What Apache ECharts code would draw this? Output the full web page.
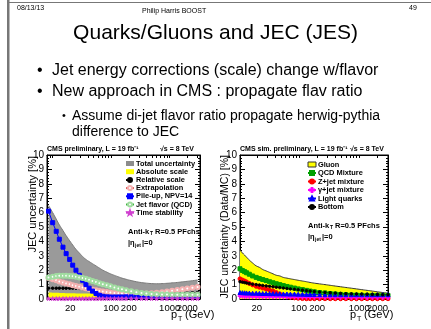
<!DOCTYPE html>
<html><head><meta charset="utf-8">
<script src="https://cdn.jsdelivr.net/npm/echarts@6/dist/echarts.min.js"></script>
<style>html,body{margin:0;padding:0;background:#fff}#c{width:431px;height:329px}</style>
</head><body><div id="c"></div>
<script>
// ---- data ----
var pT = [8.5, 10, 11.5, 13, 15, 17, 19.5, 22, 25, 28.5, 32.5, 37, 42, 48, 55, 63, 72, 84, 97, 114, 133, 153, 180, 220, 270, 330, 400, 490, 600, 740, 900, 1100, 1350, 1650, 2000, 2450, 3000];
var pTRight = [10.5, 11.5, 12.5, 13.5, 15, 17, 19.5, 22, 25, 28.5, 32.5, 37, 42, 48, 55, 63, 72, 84, 97, 114, 133, 153, 180, 220, 270, 330, 400, 490, 600, 740, 900, 1100, 1350, 1650, 2000, 2450, 3000];
// left plot: JEC uncertainty [%]
var leftTotal    = [6.5, 6.0, 5.55, 5.15, 4.75, 4.4, 4.05, 3.75, 3.45, 3.2, 2.95, 2.75, 2.6, 2.45, 2.3, 2.15, 2.0, 1.87, 1.75, 1.64, 1.54, 1.45, 1.37, 1.28, 1.2, 1.14, 1.1, 1.07, 1.06, 1.07, 1.09, 1.12, 1.15, 1.19, 1.23, 1.27, 1.32];
var leftAbsolute = [0.45, 0.44, 0.43, 0.42, 0.41, 0.4, 0.4, 0.4, 0.39, 0.39, 0.39, 0.38, 0.38, 0.38, 0.38, 0.38, 0.38, 0.38, 0.38, 0.38, 0.38, 0.38, 0.38, 0.38, 0.38, 0.38, 0.38, 0.38, 0.38, 0.38, 0.38, 0.38, 0.38, 0.38, 0.38, 0.38, 0.38];
var leftRelative = [0.75, 0.75, 0.75, 0.75, 0.75, 0.75, 0.75, 0.75, 0.75, 0.74, 0.73, 0.72, 0.7, 0.67, 0.64, 0.6, 0.56, 0.52, 0.49, 0.46, 0.44, 0.43, 0.42, 0.41, 0.4, 0.4, 0.4, 0.4, 0.4, 0.4, 0.41, 0.41, 0.42, 0.42, 0.43, 0.44, 0.45];
var leftExtrap   = [1.45, 1.38, 1.3, 1.22, 1.15, 1.08, 1.02, 0.96, 0.9, 0.85, 0.8, 0.75, 0.7, 0.65, 0.6, 0.56, 0.52, 0.48, 0.45, 0.42, 0.4, 0.38, 0.36, 0.35, 0.35, 0.36, 0.38, 0.4, 0.43, 0.47, 0.52, 0.57, 0.62, 0.68, 0.73, 0.78, 0.83];
var leftPileup   = [6.1, 5.3, 4.7, 4.15, 3.6, 3.15, 2.75, 2.35, 2.0, 1.65, 1.3, 1.0, 0.75, 0.55, 0.38, 0.26, 0.19, 0.15, 0.14, 0.14, 0.14, 0.14, 0.15, 0.15, 0.15, 0.15, 0.16, 0.16, 0.16, 0.17, 0.17, 0.18, 0.18, 0.19, 0.19, 0.2, 0.2];
var leftFlavor   = [1.5, 1.55, 1.6, 1.62, 1.62, 1.62, 1.6, 1.58, 1.55, 1.5, 1.45, 1.4, 1.33, 1.25, 1.18, 1.1, 1.02, 0.95, 0.88, 0.8, 0.73, 0.67, 0.6, 0.53, 0.47, 0.42, 0.38, 0.35, 0.33, 0.32, 0.31, 0.3, 0.3, 0.3, 0.3, 0.3, 0.3];
var leftTime     = [0.03, 0.03, 0.03, 0.03, 0.03, 0.03, 0.03, 0.03, 0.03, 0.03, 0.03, 0.03, 0.03, 0.03, 0.03, 0.03, 0.03, 0.03, 0.03, 0.03, 0.03, 0.03, 0.03, 0.03, 0.03, 0.03, 0.03, 0.03, 0.03, 0.03, 0.03, 0.03, 0.03, 0.03, 0.03, 0.03, 0.03];
// right plot: JEC uncertainty (Data/MC) [%]
var rightGluon   = [3.4, 3.2, 3.05, 2.9, 2.7, 2.5, 2.3, 2.2, 2.05, 1.95, 1.85, 1.75, 1.65, 1.6, 1.5, 1.45, 1.4, 1.35, 1.3, 1.25, 1.2, 1.15, 1.1, 1.05, 1.0, 0.95, 0.9, 0.85, 0.8, 0.75, 0.7, 0.65, 0.6, 0.55, 0.5, 0.45, 0.4];
var rightQCD     = [2.1, 1.98, 1.9, 1.82, 1.72, 1.6, 1.5, 1.42, 1.35, 1.28, 1.2, 1.13, 1.06, 1.0, 0.93, 0.87, 0.82, 0.76, 0.7, 0.65, 0.6, 0.55, 0.5, 0.45, 0.42, 0.38, 0.35, 0.32, 0.3, 0.28, 0.27, 0.26, 0.25, 0.25, 0.25, 0.25, 0.25];
var rightZjet    = [1.4, 1.32, 1.25, 1.18, 1.08, 0.98, 0.88, 0.82, 0.76, 0.7, 0.62, 0.55, 0.45, 0.35, 0.25, 0.18, 0.12, 0.08, 0.05, 0.03, 0.02, 0.02, 0.02, 0.02, 0.02, 0.02, 0.02, 0.02, 0.02, 0.02, 0.02, 0.02, 0.02, 0.02, 0.02, 0.02, 0.02];
var rightGjet    = [0.2, 0.19, 0.18, 0.17, 0.16, 0.16, 0.15, 0.15, 0.15, 0.15, 0.15, 0.15, 0.15, 0.14, 0.14, 0.14, 0.14, 0.14, 0.13, 0.13, 0.13, 0.13, 0.12, 0.12, 0.12, 0.12, 0.11, 0.11, 0.11, 0.1, 0.1, 0.1, 0.1, 0.1, 0.1, 0.1, 0.1];
var rightLight   = [0.45, 0.44, 0.43, 0.42, 0.41, 0.4, 0.4, 0.39, 0.38, 0.38, 0.37, 0.37, 0.36, 0.36, 0.35, 0.35, 0.34, 0.34, 0.33, 0.33, 0.32, 0.32, 0.31, 0.31, 0.3, 0.3, 0.3, 0.3, 0.3, 0.3, 0.3, 0.3, 0.3, 0.3, 0.3, 0.3, 0.3];
var rightBottom  = [1.2, 1.17, 1.14, 1.11, 1.07, 1.03, 1.0, 0.97, 0.94, 0.91, 0.88, 0.85, 0.82, 0.79, 0.76, 0.73, 0.7, 0.67, 0.64, 0.61, 0.58, 0.55, 0.52, 0.49, 0.46, 0.43, 0.41, 0.39, 0.37, 0.36, 0.35, 0.34, 0.33, 0.32, 0.31, 0.3, 0.3];
// axis ticks
var xLabelValues = [20, 100, 200, 1000];
var xLabelValuesExtra = [2000];
var xTickValues  = [8, 9, 10, 20, 30, 40, 50, 60, 70, 80, 90, 100, 200, 300, 400, 500, 600, 700, 800, 900, 1000, 2000, 3000];

var FONT = 'Liberation Sans, Arial, sans-serif';
function pts(xs, a){ return xs.map(function(x,i){ return [x, a[i]]; }); }

var chart = echarts.init(document.getElementById('c'), null, {renderer:'canvas'});

function labelCfg(vals){
  return {show:true, customValues:vals, hideOverlap:false, showMinLabel:true, showMaxLabel:true,
          color:'#000', fontSize:9.5, fontFamily:FONT, margin:4,
          formatter:function(v){ return String(Math.round(v)); }};
}
function xAxes(grid, mn, mx){
  return [{
    type:'log', gridIndex:grid, min:mn, max:mx, logBase:10, position:'bottom',
    axisLine:{show:true, lineStyle:{color:'#000', width:1}},
    axisTick:{show:true, inside:true, length:3, customValues:xTickValues, lineStyle:{color:'#000'}},
    axisLabel:labelCfg(xLabelValues),
    splitLine:{show:false}, minorTick:{show:false}
  },{
    type:'log', gridIndex:grid, min:mn, max:mx, logBase:10, position:'bottom',
    axisLine:{show:false}, axisTick:{show:false},
    axisLabel:labelCfg(xLabelValuesExtra),
    splitLine:{show:false}, minorTick:{show:false}
  },{
    type:'log', gridIndex:grid, min:mn, max:mx, logBase:10, position:'top',
    axisLine:{show:true, lineStyle:{color:'#000', width:1}},
    axisTick:{show:true, inside:true, length:3, customValues:xTickValues, lineStyle:{color:'#000'}},
    axisLabel:{show:false}, splitLine:{show:false}
  }];
}
function yAxes(grid){
  return [{
    type:'value', gridIndex:grid, min:0, max:10, interval:1, position:'left',
    axisLine:{show:true, lineStyle:{color:'#000'}},
    axisTick:{show:true, inside:true, length:5, lineStyle:{color:'#000'}},
    minorTick:{show:true, splitNumber:5, length:2, lineStyle:{color:'#000'}},
    axisLabel:{color:'#000', fontSize:10, fontFamily:FONT, margin:3},
    splitLine:{show:false}
  },{
    type:'value', gridIndex:grid, min:0, max:10, interval:1, position:'right',
    axisLine:{show:true, lineStyle:{color:'#000'}},
    axisTick:{show:true, inside:true, length:5, lineStyle:{color:'#000'}},
    minorTick:{show:true, splitNumber:5, length:2, lineStyle:{color:'#000'}},
    axisLabel:{show:false}, splitLine:{show:false}
  }];
}

function lineSeries(name, xs, data, xi, yi, color, symbol, size, opts){
  var s = {
    name:name, type:'line', xAxisIndex:xi, yAxisIndex:yi, data:pts(xs, data),
    symbol:symbol, symbolSize:size, showSymbol:true, smooth:false,
    lineStyle:{color:color, width:1},
    itemStyle:{color:color, borderColor:color, borderWidth:1},
    z:5, animation:false
  };
  if (opts) for (var k in opts) s[k] = opts[k];
  return s;
}

var plus = 'path://M4,0h2v4h4v2h-4v4h-2v-4h-4v-2h4z';
var star = 'path://M5,0L6.2,3.6L10,3.6L7,5.9L8.1,9.5L5,7.3L1.9,9.5L3,5.9L0,3.6L3.8,3.6Z';

var legendText = {fontSize:7.4, fontWeight:'bold', fontFamily:FONT, color:'#000', lineHeight:7, padding:[0,0,0,-3]};

var option = {
  animation:false,
  backgroundColor:'#fff',
  grid:[
    {left:47, top:155, width:153, height:144, show:true, borderColor:'#000', borderWidth:1, backgroundColor:'transparent'},
    {left:240, top:155, width:148, height:144, show:true, borderColor:'#000', borderWidth:1, backgroundColor:'transparent'}
  ],
  xAxis: xAxes(0, 8, 3300).concat(xAxes(1, 10.5, 3000)),
  yAxis: yAxes(0).concat(yAxes(1)),
  legend:[
    {orient:'vertical', left:125, top:160, itemWidth:8, itemHeight:5, itemGap:1.2, padding:0, textStyle:legendText,
     data:[
      {name:'Total uncertainty', icon:'rect', itemStyle:{color:'#8c8c8c'}},
      {name:'Absolute scale', icon:'rect', itemStyle:{color:'#ffff00'}},
      {name:'Relative scale'}, {name:'Extrapolation'}, {name:'Pile-up, NPV=14'},
      {name:'Jet flavor (QCD)'}, {name:'Time stability'}
     ]},
    {orient:'vertical', left:307, top:161, itemWidth:8, itemHeight:5, itemGap:1.5, padding:0, textStyle:legendText,
     data:[
      {name:'Gluon', icon:'rect', itemStyle:{color:'#ffff00', borderColor:'#333', borderWidth:1}},
      {name:'QCD Mixture'}, {name:'Z+jet mixture'}, {name:'γ+jet mixture'},
      {name:'Light quarks'}, {name:'Bottom'}
     ]}
  ],
  series:[
    // left plot
    {name:'Total uncertainty', type:'line', xAxisIndex:0, yAxisIndex:0, data:pts(pT, leftTotal), symbol:'none', smooth:true,
     lineStyle:{color:'#7a7a7a', width:1}, areaStyle:{color:'#9a9a9a', opacity:1}, itemStyle:{color:'#8c8c8c'}, z:1},
    {name:'Absolute scale', type:'line', xAxisIndex:0, yAxisIndex:0, data:pts(pT, leftAbsolute), symbol:'none', smooth:true,
     lineStyle:{width:0}, areaStyle:{color:'#ffff00', opacity:1}, itemStyle:{color:'#ffff00'}, z:2},
    lineSeries('Relative scale', pT, leftRelative, 0, 0, '#000', 'circle', 2.5, {lineStyle:{color:'#000', width:1, type:'dotted'}}),
    lineSeries('Extrapolation', pT, leftExtrap, 0, 0, '#e06060', 'emptyCircle', 4, {itemStyle:{color:'#f4b0b0', borderColor:'#e06060', borderWidth:1}}),
    lineSeries('Pile-up, NPV=14', pT, leftPileup, 0, 0, '#0000ff', 'rect', 4),
    lineSeries('Jet flavor (QCD)', pT, leftFlavor, 0, 0, '#40b040', 'emptyCircle', 4, {itemStyle:{color:'#a0dca0', borderColor:'#40b040', borderWidth:1}}),
    lineSeries('Time stability', pT, leftTime, 0, 0, '#d040d0', star, 4),
    // right plot
    {name:'Gluon', type:'line', xAxisIndex:3, yAxisIndex:2, data:pts(pTRight, rightGluon), symbol:'none', smooth:true,
     lineStyle:{color:'#333', width:1}, areaStyle:{color:'#ffff00', opacity:1}, itemStyle:{color:'#ffff00', borderColor:'#333'}, z:1},
    lineSeries('QCD Mixture', pTRight, rightQCD, 3, 2, '#00a000', 'rect', 4),
    lineSeries('Z+jet mixture', pTRight, rightZjet, 3, 2, '#ff0000', 'circle', 4),
    lineSeries('γ+jet mixture', pTRight, rightGjet, 3, 2, '#ff00ff', plus, 4),
    lineSeries('Light quarks', pTRight, rightLight, 3, 2, '#0000ff', 'triangle', 4),
    lineSeries('Bottom', pTRight, rightBottom, 3, 2, '#000', 'circle', 2.5)
  ],
  graphic:[
    // slide frame
    {type:'rect', shape:{x:7, y:0, width:2.5, height:329}, style:{fill:'#777'}},
    {type:'rect', shape:{x:7, y:2, width:424, height:1}, style:{fill:'#777'}},
    {type:'text', left:17, top:5, style:{text:'08/13/13', font:'7px '+FONT, fill:'#000'}},
    {type:'text', left:142, top:8, style:{text:'Philip Harris BOOST', font:'7px '+FONT, fill:'#000'}},
    {type:'text', left:409, top:5, style:{text:'49', font:'7px '+FONT, fill:'#000'}},
    {type:'text', left:'center', top:23, style:{text:'Quarks/Gluons and JEC (JES)', font:'21px '+FONT, fill:'#000'}},
    {type:'text', left:37, top:63, style:{text:'•', font:'16px '+FONT, fill:'#000'}},
    {type:'text', left:52, top:63, style:{text:'Jet energy corrections (scale) change w/flavor', font:'16px '+FONT, fill:'#000'}},
    {type:'text', left:37, top:84, style:{text:'•', font:'16px '+FONT, fill:'#000'}},
    {type:'text', left:52, top:84, style:{text:'New approach in CMS : propagate flav ratio', font:'16px '+FONT, fill:'#000'}},
    {type:'text', left:62, top:110, style:{text:'•', font:'11px '+FONT, fill:'#000'}},
    {type:'text', left:72, top:108, style:{text:'Assume di-jet flavor ratio propagate herwig-pythia\ndifference to JEC', font:'14px '+FONT, lineHeight:16, fill:'#000'}},
    // left plot header & labels
    {type:'text', left:47, top:146, style:{text:'CMS preliminary, L = 19 fb⁻¹', font:'bold 7px '+FONT, fill:'#000'}},
    {type:'text', left:160, top:146, style:{text:'√s = 8 TeV', font:'bold 7px '+FONT, fill:'#000'}},
    {type:'text', x:33, y:156, rotation:Math.PI/2, style:{text:'JEC uncertainty [%]', font:'11px '+FONT, fill:'#000', align:'right', verticalAlign:'middle'}},
    {type:'text', left:128, top:228, style:{text:'Anti-k', font:'bold 7.5px '+FONT, fill:'#000'}},
    {type:'text', left:150, top:231, style:{text:'T', font:'bold 5px '+FONT, fill:'#000'}},
    {type:'text', left:155, top:228, style:{text:'R=0.5 PFchs', font:'bold 7.5px '+FONT, fill:'#000'}},
    {type:'text', left:128, top:239, style:{text:'|η', font:'bold 7.5px '+FONT, fill:'#000'}},
    {type:'text', left:135, top:243, style:{text:'jet', font:'bold 5px '+FONT, fill:'#000'}},
    {type:'text', left:142, top:239, style:{text:'|=0', font:'bold 7.5px '+FONT, fill:'#000'}},
    {type:'text', left:171, top:309, style:{text:'p', font:'11px '+FONT, fill:'#000'}},
    {type:'text', left:178, top:316, style:{text:'T', font:'7px '+FONT, fill:'#000'}},
    {type:'text', left:185, top:309, style:{text:'(GeV)', font:'11px '+FONT, fill:'#000'}},
    // right plot header & labels
    {type:'text', left:240, top:146, style:{text:'CMS sim. preliminary, L = 19 fb⁻¹', font:'bold 7px '+FONT, fill:'#000'}},
    {type:'text', left:350, top:146, style:{text:'√s = 8 TeV', font:'bold 7px '+FONT, fill:'#000'}},
    {type:'text', x:225, y:155, rotation:Math.PI/2, style:{text:'JEC uncertainty (Data/MC) [%]', font:'10.5px '+FONT, fill:'#000', align:'right', verticalAlign:'middle'}},
    {type:'text', left:308, top:222, style:{text:'Anti-k', font:'bold 7.5px '+FONT, fill:'#000'}},
    {type:'text', left:330, top:225, style:{text:'T', font:'bold 5px '+FONT, fill:'#000'}},
    {type:'text', left:335, top:222, style:{text:'R=0.5 PFchs', font:'bold 7.5px '+FONT, fill:'#000'}},
    {type:'text', left:308, top:233, style:{text:'|η', font:'bold 7.5px '+FONT, fill:'#000'}},
    {type:'text', left:315, top:237, style:{text:'jet', font:'bold 5px '+FONT, fill:'#000'}},
    {type:'text', left:322, top:233, style:{text:'|=0', font:'bold 7.5px '+FONT, fill:'#000'}},
    {type:'text', left:350, top:309, style:{text:'p', font:'11px '+FONT, fill:'#000'}},
    {type:'text', left:357, top:316, style:{text:'T', font:'7px '+FONT, fill:'#000'}},
    {type:'text', left:364, top:309, style:{text:'(GeV)', font:'11px '+FONT, fill:'#000'}}
  ]
};
chart.setOption(option);
</script>
</body></html>
